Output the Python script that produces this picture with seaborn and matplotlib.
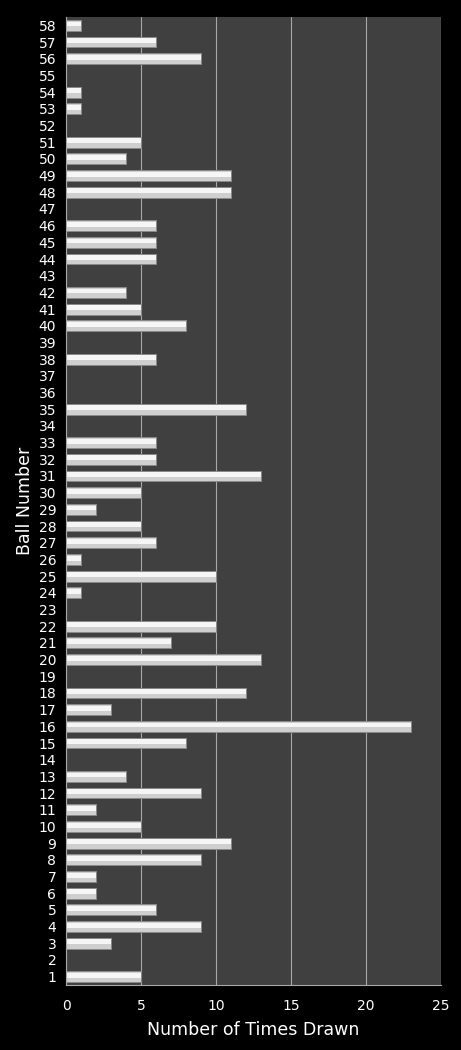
import pandas as pd
import numpy as np
import matplotlib
matplotlib.use('Agg')
import matplotlib.pyplot as plt
import seaborn as sns

# Ball numbers and how often each was drawn
balls = list(range(1, 59))
times_drawn = [5, 0, 3, 9, 6, 2, 2, 9, 11, 5,
               2, 9, 4, 0, 8, 23, 3, 12, 0, 13,
               7, 10, 0, 1, 10, 1, 6, 5, 2, 5,
               13, 6, 6, 0, 12, 0, 0, 6, 0, 8,
               5, 4, 0, 6, 6, 6, 0, 11, 11, 4,
               5, 0, 1, 1, 0, 9, 6, 1]
x_ticks = [0, 5, 10, 15, 20, 25]

df = pd.DataFrame({'ball': [str(b) for b in balls], 'drawn': times_drawn})
order = [str(b) for b in reversed(balls)]

sns.set_style('dark')
plt.rcParams['font.family'] = ['DejaVu Sans']

fig = plt.figure(figsize=(4.61, 10.5), dpi=100, facecolor='black')
ax = fig.add_axes([0.1432, 0.0619, 0.8134, 0.9219])
ax.set_facecolor('#404040')

sns.barplot(data=df, x='drawn', y='ball', order=order, orient='h',
            color='#cfcfcf', edgecolor='#8a8a8a', linewidth=0.7,
            width=0.65, ax=ax)

# lighter highlight strip on each bar (fake gradient)
for p in ax.patches:
    w = p.get_width()
    if w > 0:
        h = p.get_height()
        ax.add_patch(plt.Rectangle((p.get_x(), p.get_y() + h * 0.15),
                                   w, h * 0.45, color='#f6f6f6', lw=0,
                                   zorder=p.get_zorder() + 0.1))

ax.set_xlim(0, 25)
ax.set_xticks(x_ticks)
ax.xaxis.grid(True, color='#a8a8a8', linewidth=0.8)
ax.yaxis.grid(False)
ax.set_axisbelow(True)

for s in ['top', 'right']:
    ax.spines[s].set_visible(False)
for s in ['left', 'bottom']:
    ax.spines[s].set_color('#a8a8a8')
    ax.spines[s].set_linewidth(0.8)

ax.tick_params(axis='both', colors='white', labelsize=10, length=0)
ax.tick_params(axis='x', pad=10)
ax.tick_params(axis='y', pad=7)
ax.set_xlabel('Number of Times Drawn', color='white', fontsize=12.5, labelpad=6)
ax.set_ylabel('Ball Number', color='white', fontsize=12.5, labelpad=3)

fig.savefig('out.png', dpi=100, facecolor='black')
